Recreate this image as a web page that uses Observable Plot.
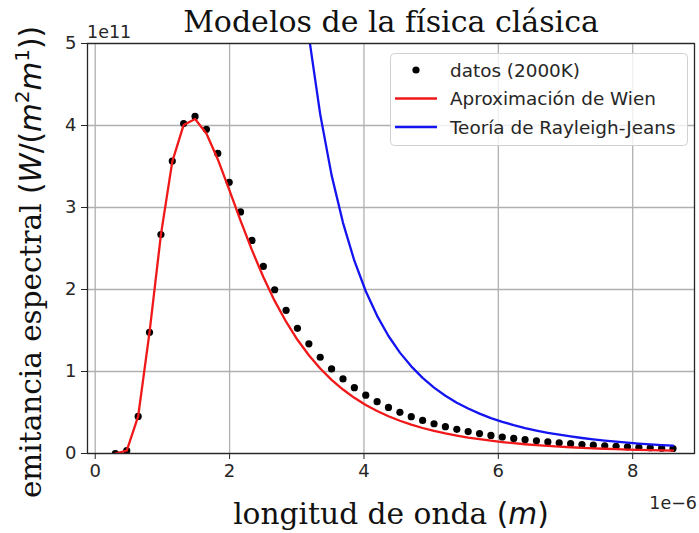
<!DOCTYPE html>
<html><head><meta charset="utf-8">
<script src="https://cdn.jsdelivr.net/npm/d3@7"></script>
<script src="https://cdn.jsdelivr.net/npm/@observablehq/plot@0.6"></script>
<style>body{margin:0;background:#fff;} #chart{width:699px;height:533px;}</style>
</head><body><div id="chart"></div>
<script>
// wavelength (×1e-6 m)
const lambda = [0.3,0.469,0.639,0.808,0.978,1.147,1.316,1.486,1.655,1.824,1.994,2.163,2.333,2.502,2.671,2.841,3.010,3.180,3.349,3.518,3.688,3.857,4.027,4.196,4.365,4.535,4.704,4.873,5.043,5.212,5.382,5.551,5.720,5.890,6.059,6.229,6.398,6.567,6.737,6.906,7.076,7.245,7.414,7.584,7.753,7.922,8.092,8.261,8.431,8.6];
// spectral emittance (×1e11 W/m^3)
const datos = [0.0001,0.036,0.452,1.478,2.670,3.566,4.024,4.111,3.953,3.660,3.308,2.946,2.599,2.281,1.997,1.746,1.527,1.338,1.174,1.032,0.909,0.803,0.711,0.632,0.562,0.502,0.449,0.403,0.363,0.327,0.295,0.267,0.243,0.221,0.201,0.184,0.168,0.154,0.141,0.130,0.120,0.110,0.102,0.094,0.087,0.081,0.075,0.070,0.065,0.061];
const wien = [0.0001,0.036,0.452,1.478,2.669,3.559,4.007,4.079,3.902,3.589,3.218,2.840,2.480,2.152,1.861,1.607,1.387,1.198,1.037,0.898,0.780,0.679,0.592,0.518,0.454,0.399,0.352,0.311,0.276,0.245,0.218,0.194,0.174,0.156,0.140,0.126,0.113,0.102,0.093,0.084,0.076,0.069,0.063,0.058,0.053,0.048,0.044,0.041,0.037,0.034];
const rayleigh = [64230,10717,3125,1220,569.7,300.7,173.3,106.8,69.33,46.95,32.92,23.76,17.57,13.28,10.22,7.988,6.336,5.090,4.136,3.395,2.813,2.351,1.979,1.679,1.433,1.230,1.063,0.922,0.804,0.705,0.620,0.548,0.486,0.432,0.386,0.346,0.310,0.280,0.253,0.229,0.208,0.189,0.172,0.157,0.144,0.132,0.121,0.112,0.103,0.095];
const xTicks = [0,2,4,6,8];
const yTicks = [0,1,2,3,4,5];
const seriesNames = ["datos (2000K)","Aproximación de Wien","Teoría de Rayleigh-Jeans"];
const title = "Modelos de la física clásica";

const dData = lambda.map((x,i)=>({x, y: datos[i]}));
const wData = lambda.map((x,i)=>({x, y: wien[i]}));
const rData = lambda.map((x,i)=>({x, y: rayleigh[i]}));

const svgNode = Plot.plot({
  width: 699, height: 533,
  marginLeft: 87, marginRight: 5, marginTop: 43, marginBottom: 80,
  x: {domain: [-0.115, 8.92]},
  y: {domain: [0, 5]},
  style: {fontFamily: "DejaVu Sans", fontSize: "18px", background: "#fff", color: "#262626", overflow: "visible"},
  marks: [
    Plot.gridX(xTicks, {stroke: "#b0b0b0", strokeOpacity: 1, strokeWidth: 1.3}),
    Plot.gridY(yTicks, {stroke: "#b0b0b0", strokeOpacity: 1, strokeWidth: 1.3}),
    Plot.dot(dData, {x: "x", y: "y", r: 3.6, fill: "#000", stroke: null, clip: true}),
    Plot.line(wData, {x: "x", y: "y", stroke: "#f01818", strokeWidth: 2.3, clip: true}),
    Plot.line(rData, {x: "x", y: "y", stroke: "#1414f0", strokeWidth: 2.3, clip: true}),
    Plot.frame({stroke: "#262626", strokeWidth: 1.3}),
    Plot.axisX(xTicks, {tickSize: 6, tickPadding: 5, label: null, tickFormat: d => String(d)}),
    Plot.axisY(yTicks, {tickSize: 6, tickPadding: 5, label: null, tickFormat: d => String(d)})
  ]
});
document.getElementById("chart").appendChild(svgNode);

const svg = d3.select(svgNode);
// title
svg.append("text").attr("x", 391).attr("y", 32).attr("text-anchor", "middle")
  .attr("font-family", "DejaVu Serif").attr("font-size", 30).attr("fill", "#111").text(title);
// offset texts
svg.append("text").attr("x", 87).attr("y", 38).attr("text-anchor", "start").attr("font-size", 17.5).attr("fill", "#262626").text("1e11");
svg.append("text").attr("x", 697).attr("y", 509).attr("text-anchor", "end").attr("font-size", 17.5).attr("fill", "#262626").text("1e\u22126");
// x label
const xl = svg.append("text").attr("x", 391).attr("y", 524).attr("text-anchor", "middle")
  .attr("font-family", "DejaVu Serif").attr("font-size", 29.7).attr("fill", "#111");
xl.append("tspan").text("longitud de onda ");
xl.append("tspan").attr("font-family", "DejaVu Sans").text("(");
xl.append("tspan").attr("font-family", "DejaVu Sans").attr("font-style", "italic").text("m");
xl.append("tspan").attr("font-family", "DejaVu Sans").text(")");
// y label
const yl = svg.append("text").attr("transform", "translate(41,262) rotate(-90)").attr("text-anchor", "middle")
  .attr("font-family", "DejaVu Serif").attr("font-size", 29.5).attr("fill", "#111");
yl.append("tspan").text("emitancia espectral ");
yl.append("tspan").attr("font-family", "DejaVu Sans").text("(");
yl.append("tspan").attr("font-family", "DejaVu Sans").attr("font-style", "italic").text("W");
yl.append("tspan").attr("font-family", "DejaVu Sans").text("/(");
yl.append("tspan").attr("font-family", "DejaVu Sans").attr("font-style", "italic").text("m");
yl.append("tspan").attr("font-family", "DejaVu Sans").attr("font-size", 20).attr("dy", -12).text("2");
yl.append("tspan").attr("font-family", "DejaVu Sans").attr("font-style", "italic").attr("dy", 12).text("m");
yl.append("tspan").attr("font-family", "DejaVu Sans").attr("font-size", 20).attr("dy", -12).text("1");
yl.append("tspan").attr("font-family", "DejaVu Sans").attr("dy", 12).text("))");

// legend
const lg = svg.append("g").attr("text-anchor", "start");
lg.append("rect").attr("x", 390.5).attr("y", 53.5).attr("width", 297).attr("height", 92).attr("rx", 4)
  .attr("fill", "#fff").attr("fill-opacity", 0.8).attr("stroke", "#d0d0d0");
const rowsY = [70, 98.5, 127];
lg.append("circle").attr("cx", 416).attr("cy", rowsY[0]).attr("r", 3.6).attr("fill", "#000");
lg.append("line").attr("x1", 395).attr("x2", 437).attr("y1", rowsY[1]).attr("y2", rowsY[1]).attr("stroke", "#f01818").attr("stroke-width", 2.3);
lg.append("line").attr("x1", 395).attr("x2", 437).attr("y1", rowsY[2]).attr("y2", rowsY[2]).attr("stroke", "#1414f0").attr("stroke-width", 2.3);
seriesNames.forEach((s, i) => {
  lg.append("text").attr("x", 450).attr("y", rowsY[i] + 6.5).attr("text-anchor", "start").attr("font-size", 18.4).attr("fill", "#262626").text(s);
});
</script>
</body></html>
